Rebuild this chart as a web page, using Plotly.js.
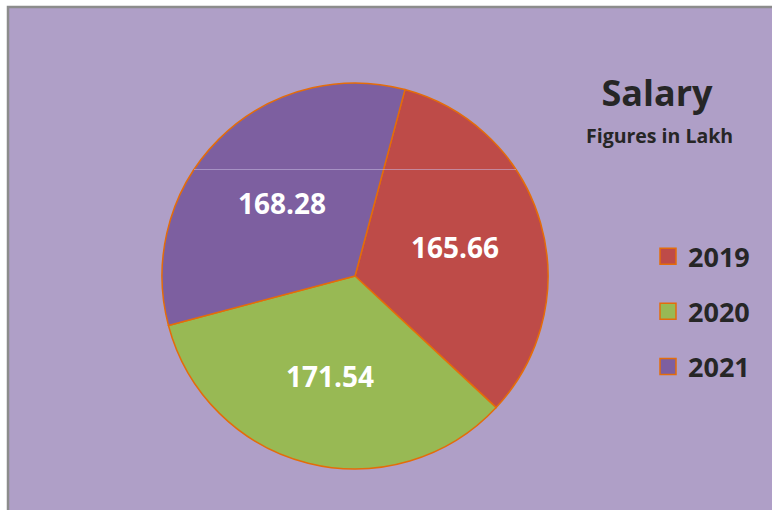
<!DOCTYPE html>
<html><head><meta charset="utf-8">
<script src="https://cdn.plot.ly/plotly-3.0.1.min.js"></script>
<style>html,body{margin:0;padding:0;background:#fff}#chart{width:772px;height:510px}</style>
</head><body><div id="chart"></div>
<script>
const years = ['2019', '2020', '2021'];
const salary = [165.66, 171.54, 168.28];
const sliceColors = ['#BE4B48', '#98B954', '#7D5FA0'];
const titleText = 'Salary';
const subtitleText = 'Figures in Lakh';

const FONT = 'Open Sans, Lato, sans-serif';
const DARK = '#262626';
const EDGE = '#E46C0A';

const pie = {
  type: 'pie', labels: years, values: salary, sort: false,
  direction: 'clockwise', rotation: 15,
  marker: {colors: sliceColors, line: {color: EDGE, width: 1.5}},
  textinfo: 'value', texttemplate: '%{value:.2f}',
  textposition: 'inside', insidetextorientation: 'horizontal',
  textfont: {family: FONT, size: 28, color: '#ffffff', weight: 'bold'},
  domain: {x: [162 / 772, 548 / 772], y: [41 / 510, 427 / 510]},
  showlegend: false, hoverinfo: 'label+value'
};

const legendProxies = years.map((y, i) => ({
  type: 'scatter', mode: 'markers', x: [null], y: [null],
  name: y, legendgroup: y,
  marker: {symbol: 'square', size: 18, color: sliceColors[i], line: {color: EDGE, width: 1.5}},
  hoverinfo: 'skip'
}));

const layout = {
  width: 772, height: 510,
  margin: {l: 0, r: 0, t: 0, b: 0},
  paper_bgcolor: '#ffffff', plot_bgcolor: 'rgba(0,0,0,0)',
  xaxis: {visible: false}, yaxis: {visible: false},
  shapes: [{
    type: 'rect', xref: 'paper', yref: 'paper',
    x0: 8 / 772, x1: 1.02, y0: -0.02, y1: 1 - 7 / 510,
    fillcolor: '#AF9FC7', line: {color: '#8C8C8C', width: 2.5}, layer: 'below'
  }, {
    type: 'line', xref: 'paper', yref: 'paper',
    x0: 194 / 772, x1: 516 / 772, y0: 1 - 169.5 / 510, y1: 1 - 169.5 / 510,
    line: {color: 'rgba(200,185,225,0.55)', width: 1}, layer: 'above'
  }],
  title: {
    text: '<b>' + titleText + '</b>',
    font: {family: FONT, size: 36, color: DARK},
    x: 657 / 772, xanchor: 'center', xref: 'paper',
    y: 0.8416, yanchor: 'top', yref: 'container'
  },
  annotations: [{
    text: '<b>' + subtitleText + '</b>', showarrow: false,
    xref: 'paper', yref: 'paper', x: 659 / 772, y: 0.735,
    xanchor: 'center', yanchor: 'middle',
    font: {family: FONT, size: 19.5, color: DARK}
  }],
  legend: {
    x: 648 / 772, y: 0.5448, xanchor: 'left', yanchor: 'top',
    font: {family: FONT, size: 27, color: DARK, weight: 'bold'},
    tracegroupgap: 17, bgcolor: 'rgba(0,0,0,0)'
  }
};

Plotly.newPlot('chart', [pie].concat(legendProxies), layout, {displayModeBar: false, staticPlot: true});
</script>
</body></html>
